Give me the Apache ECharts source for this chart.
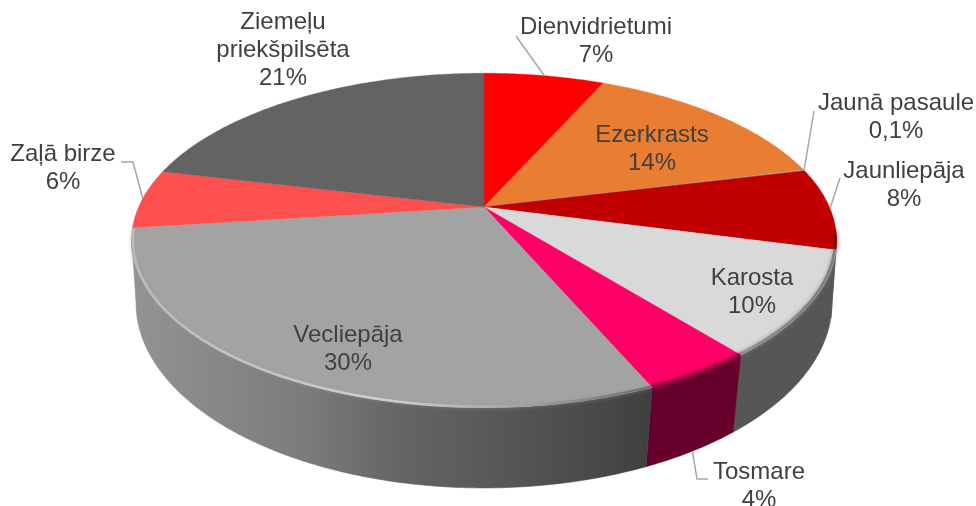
<!DOCTYPE html>
<html>
<head>
<meta charset="utf-8">
<style>
    html, body {margin: 0; background: #fff;}
    #chart {width: 976px; height: 506px;}
</style>
<script src="https://cdn.jsdelivr.net/npm/echarts@6/dist/echarts.min.js"></script>
</head>
<body>
<div id="chart"></div>
<script>
// slices clockwise from 12 o'clock
const names = ['Dienvidrietumi', 'Ezerkrasts', 'Jaunā pasaule', 'Jaunliepāja', 'Karosta', 'Tosmare', 'Vecliepāja', 'Zaļā birze', 'Ziemeļu\npriekšpilsēta'];
const shares = [6.7, 14.4, 0.1, 7.9, 10.1, 4.3, 29.5, 5.7, 21.3];
const colors = ['#ff0000', '#e97d32', '#a0a0a0', '#c00000', '#d9d9d9', '#ff0066', '#a3a3a3', '#ff5050', '#636363'];

// label centres, [x, y, leader elbow points]
const labelSpots = [
    [596, 41, [[516, 36]]],
    [652, 149, null],
    [896, 117, [[814, 111]]],
    [904, 185, [[840, 178]]],
    [752, 292, null],
    [759, 486, [[708, 479], [697, 479]]],
    [348, 349, null],
    [63, 168, [[121, 162], [133, 162]]],
    [283, 50, null]
];

// the leader of Tosmare ends on the lower edge, not on the top face
const leaderOnBottom = [false, false, false, false, false, true, false, false, false];

// perspective of the upper and lower disc
const topDisc = {cx: 484, cy: 207, rx: 345.4, ry: 160.5, k: 0.2};
const lowDisc = {cx: 484, cy: 270.6, rx: 342.6, ry: 179.3, k: 0.175};

const LinearGradient = echarts.graphic.LinearGradient;
const sideGrad = (x0, x1, stops) => new LinearGradient(x0, 0, x1, 0, stops, true);

const wallFills = [
    '#7f0000', '#7f0000', '#585858', '#585858', '#565656', '#66002a',
    sideGrad(131, 650, [
        {offset: 0, color: '#939393'},
        {offset: 0.33, color: '#7c7c7c'},
        {offset: 0.52, color: '#646464'},
        {offset: 0.68, color: '#5a5a5a'},
        {offset: 1, color: '#404040'}
    ]),
    '#929292', '#636363'
];
const rimFills = [
    null, null, null, '#8a0000',
    sideGrad(738, 836, [{offset: 0, color: '#909090'}, {offset: 1, color: '#7c7c7c'}]),
    '#a00044',
    sideGrad(131, 650, [
        {offset: 0, color: '#bababa'},
        {offset: 0.5, color: '#cdcdcd'},
        {offset: 0.7, color: '#adadad'},
        {offset: 1, color: '#707070'}
    ]),
    null, null
];
const rimGlows = [null, null, null, '#8a0000', '#8a8a8a', '#a00044', 'rgba(150,150,150,0.6)', null, null];

function project(disc, deg, radius) {
    const rad = deg * Math.PI / 180;
    const x = Math.sin(rad) * radius;
    const y = -Math.cos(rad) * radius;
    const w = 1 - disc.k * y;
    return [disc.cx + disc.rx * x / w, disc.cy + disc.ry * y / w];
}

function arcPoints(disc, from, to, radius) {
    const steps = Math.max(1, Math.ceil((to - from) / 0.75));
    const pts = [];
    for (let i = 0; i <= steps; i++) {
        pts.push(project(disc, from + (to - from) * i / steps, radius));
    }
    return pts;
}

function sliceRange(api) {
    const total = shares.reduce((a, b) => a + b, 0);
    const index = api.value(0);
    const before = shares.slice(0, index).reduce((a, b) => a + b, 0);
    return [before / total * 360, (before + api.value(1)) / total * 360];
}

function formatShare(value) {
    const total = shares.reduce((a, b) => a + b, 0);
    const pct = value / total * 100;
    return (pct < 1 ? pct.toFixed(1).replace('.', ',') : Math.round(pct)) + '%';
}

function renderWall(params, api) {
    const [from, to] = sliceRange(api);
    // only the part between the two tangent points faces the viewer
    const start = Math.max(from, 100);
    const end = Math.min(to, 260);
    if (end <= start) {
        return {type: 'group', children: []};
    }
    const points = arcPoints(topDisc, start, end, 1)
        .concat(arcPoints(lowDisc, start, end, 1).reverse());
    const fill = wallFills[api.value(0)];
    return {type: 'polygon', shape: {points: points}, style: {fill: fill, stroke: fill, lineWidth: 0.6}};
}

function renderTop(params, api) {
    const [from, to] = sliceRange(api);
    const index = api.value(0);
    const points = [[topDisc.cx, topDisc.cy]].concat(arcPoints(topDisc, from, to, 1));
    const children = [{
        type: 'polygon', shape: {points: points},
        style: {fill: colors[index], stroke: colors[index], lineWidth: 0.4}
    }];
    if (rimFills[index]) {
        children.push({
            type: 'polyline',
            shape: {points: arcPoints(topDisc, Math.max(from, 98), Math.min(to, 264), 0.996)},
            style: {fill: null, stroke: rimFills[index], lineWidth: 2.6, shadowBlur: 4, shadowColor: rimGlows[index]}
        });
    }
    return {type: 'group', children: children};
}

function renderLabel(params, api) {
    const [from, to] = sliceRange(api);
    const index = api.value(0);
    const spot = labelSpots[index];
    const children = [{
        type: 'text',
        style: {
            x: spot[0], y: spot[1], text: names[index] + '\n' + formatShare(api.value(1)),
            align: 'center', verticalAlign: 'middle', fill: '#404040',
            fontFamily: '"Liberation Sans", Arial, sans-serif', fontSize: 24, lineHeight: 28
        }
    }];
    if (spot[2]) {
        const disc = leaderOnBottom[index] ? lowDisc : topDisc;
        children.push({
            type: 'polyline',
            shape: {points: spot[2].concat([project(disc, (from + to) / 2, 1)])},
            style: {fill: null, stroke: '#a6a6a6', lineWidth: 1.5}
        });
    }
    return {type: 'group', children: children};
}

const sliceData = shares.map((value, index) => [index, value]);
const chart = echarts.init(document.getElementById('chart'), null, {renderer: 'canvas'});
chart.setOption({
    animation: false,
    backgroundColor: '#ffffff',
    series: [
        {type: 'custom', coordinateSystem: 'none', silent: true, z: 1, data: sliceData, renderItem: renderWall},
        {type: 'custom', coordinateSystem: 'none', silent: true, z: 2, data: sliceData, renderItem: renderTop},
        {type: 'custom', coordinateSystem: 'none', silent: true, z: 3, data: sliceData, renderItem: renderLabel}
    ]
});
</script>
</body>
</html>
